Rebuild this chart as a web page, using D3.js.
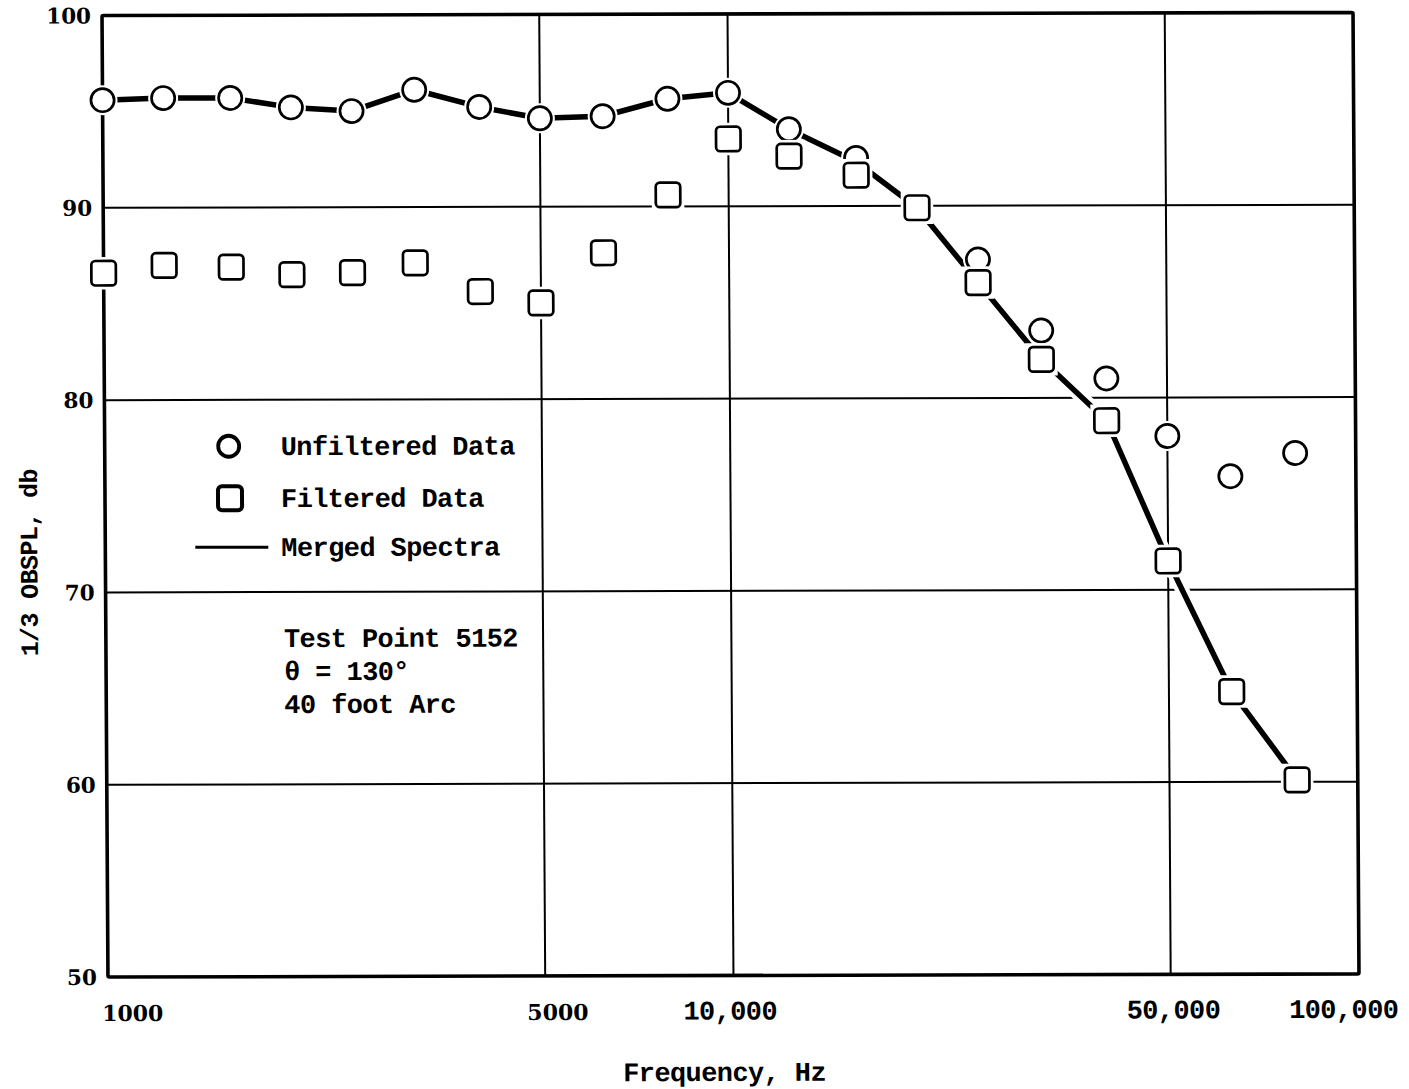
<!DOCTYPE html>
<html>
<head>
<meta charset="utf-8">
<script src="https://cdn.jsdelivr.net/npm/d3@7"></script>
<style>
  body { margin: 0; background: #fff; }
  svg { display: block; }
</style>
</head>
<body>
<svg id="chart" width="1409" height="1089"></svg>
<script>
// One-third octave band centre frequencies, Hz
const freqs = [1000, 1250, 1600, 2000, 2500, 3150, 4000, 5000, 6300, 8000,
               10000, 12500, 16000, 20000, 25000, 31500, 40000, 50000, 63000, 80000];
// 1/3 octave band sound pressure levels, db
const unfiltered = [95.6, 95.7, 95.7, 95.2, 95.0, 96.1, 95.2, 94.6, 94.7, 95.6,
                    95.9, 94.0, 92.5, 89.8, 87.2, 83.5, 81.0, 78.0, 75.9, 77.1];
const filtered   = [86.6, 87.0, 86.9, 86.5, 86.6, 87.1, 85.6, 85.0, 87.6, 90.6,
                    93.5, 92.6, 91.6, 89.9, 86.0, 82.0, 78.8, 71.5, 64.7, 60.1];
const merged     = [95.6, 95.7, 95.7, 95.2, 95.0, 96.1, 95.2, 94.6, 94.7, 95.6,
                    95.9, 94.0, 92.3, 89.9, 86.0, 82.0, 78.8, 71.5, 64.7, 60.1];

const xTicks = [1000, 5000, 10000, 50000, 100000];
const xTickLabels = ["1000", "5000", "10,000", "50,000", "100,000"];
const yTicks = [50, 60, 70, 80, 90, 100];
const xGrid = [5000, 10000, 50000];
const yGrid = [60, 70, 80, 90];

const legendLabels = ["Unfiltered Data", "Filtered Data", "Merged Spectra"];
const noteLines = ["Test Point 5152", "\u03b8 = 130\u00b0", "40 foot Arc"];
const xTitle = "Frequency, Hz";
const yTitle = "1/3 OBSPL, db";

const MONO = "'Liberation Mono', 'Courier New', monospace";
const SERIF = "'DejaVu Serif', serif";

const svg = d3.select("#chart");
svg.append("rect").attr("width", 1409).attr("height", 1089).attr("fill", "#fff");

// the printed sheet sits slightly askew
const cx = 730, cy = 495, kx = 0.0062, ky = -0.0025;
const g = svg.append("g")
  .attr("transform", `matrix(1,${ky},${kx},1,${-kx * cy},${-ky * cx})`);

const L = 105, R = 1356, T = 14, B = 975.5;
const x = d3.scaleLog().domain([1000, 100000]).range([L, R]);
const y = d3.scaleLinear().domain([50, 100]).range([B, T]);

// typewriter text helper
const mono = (sel, size) => sel
  .attr("font-family", MONO).attr("font-weight", "bold")
  .attr("font-size", size).attr("letter-spacing", -0.6).attr("fill", "#000");

// grid
g.append("g").selectAll("line").data(xGrid).join("line")
  .attr("x1", d => x(d)).attr("x2", d => x(d))
  .attr("y1", T).attr("y2", B)
  .attr("stroke", "#000").attr("stroke-width", 2);
g.append("g").selectAll("line").data(yGrid).join("line")
  .attr("x1", L).attr("x2", R)
  .attr("y1", d => y(d)).attr("y2", d => y(d))
  .attr("stroke", "#000").attr("stroke-width", 2);

// frame
g.append("rect")
  .attr("x", L).attr("y", T).attr("width", R - L).attr("height", B - T)
  .attr("fill", "none").attr("stroke", "#000").attr("stroke-width", 3.6)
  .attr("rx", 1.5);

// y tick labels
const yAxis = g.append("g")
  .attr("transform", `translate(${L},0)`)
  .call(d3.axisLeft(y).tickValues(yTicks).tickSize(0).tickPadding(11));
yAxis.select(".domain").remove();
yAxis.selectAll("text")
  .attr("font-family", SERIF).attr("font-weight", "bold")
  .attr("font-size", 21.5).attr("fill", "#000")
  .attr("dy", "0.34em");

// x tick labels
const xShift = [24, 12, -4, 2, -16];
const xAxis = g.append("g")
  .attr("transform", `translate(0,${B})`)
  .call(d3.axisBottom(x).tickValues(xTicks)
    .tickFormat((d, i) => xTickLabels[i]).tickSize(0));
xAxis.select(".domain").remove();
xAxis.selectAll("text")
  .attr("y", 44).attr("dy", 0)
  .attr("dx", (d, i) => xShift[i])
  .attr("fill", "#000")
  .each(function (d, i) {
    const t = d3.select(this);
    if (i < 2) t.attr("font-family", SERIF).attr("font-weight", "bold").attr("font-size", 22);
    else mono(t, 27);
  });

// axis titles
g.append("text")
  .attr("x", 721).attr("y", 1081)
  .attr("text-anchor", "middle")
  .call(mono, 27)
  .text(xTitle);
g.append("text")
  .attr("transform", "translate(37,561) rotate(-90)")
  .attr("text-anchor", "middle")
  .call(mono, 25)
  .text(yTitle);

// merged spectra line with a white knock-out behind it
const line = d3.line().x((d, i) => x(freqs[i])).y(d => y(d));
g.append("path").datum(merged).attr("d", line)
  .attr("fill", "none").attr("stroke", "#fff").attr("stroke-width", 14)
  .attr("stroke-linejoin", "round");
g.append("path").datum(merged).attr("d", line)
  .attr("fill", "none").attr("stroke", "#000").attr("stroke-width", 5.5)
  .attr("stroke-linejoin", "round").attr("stroke-linecap", "round");

// unfiltered data (circles)
const circ = g.append("g").selectAll("g").data(unfiltered).join("g")
  .attr("transform", (d, i) => `translate(${x(freqs[i])},${y(d)})`);
circ.append("circle").attr("r", 15).attr("fill", "#fff");
circ.append("circle").attr("r", 11.6)
  .attr("fill", "#fff").attr("stroke", "#000").attr("stroke-width", 2.7);

// filtered data (squares)
const S = 24.5;
const sq = g.append("g").selectAll("g").data(filtered).join("g")
  .attr("transform", (d, i) => `translate(${x(freqs[i])},${y(d)})`);
sq.append("rect").attr("x", -S / 2 - 4).attr("y", -S / 2 - 4)
  .attr("width", S + 8).attr("height", S + 8).attr("fill", "#fff");
sq.append("rect").attr("x", -S / 2).attr("y", -S / 2)
  .attr("width", S).attr("height", S).attr("rx", 4)
  .attr("fill", "#fff").attr("stroke", "#000").attr("stroke-width", 2.7);

// legend
const leg = g.append("g");
const legY = [445, 497, 546];
leg.append("circle").attr("cx", 229).attr("cy", legY[0]).attr("r", 10.5)
  .attr("fill", "#fff").attr("stroke", "#000").attr("stroke-width", 3.8);
leg.append("rect").attr("x", 218).attr("y", legY[1] - 12).attr("width", 24).attr("height", 24)
  .attr("rx", 4).attr("fill", "#fff").attr("stroke", "#000").attr("stroke-width", 4);
leg.append("line").attr("x1", 195).attr("x2", 268).attr("y1", legY[2]).attr("y2", legY[2])
  .attr("stroke", "#000").attr("stroke-width", 3);
leg.selectAll("text").data(legendLabels).join("text")
  .attr("x", 281).attr("y", (d, i) => legY[i] + 9)
  .call(mono, 27)
  .text(d => d);

// test point note
g.append("g").selectAll("text").data(noteLines).join("text")
  .attr("x", 283).attr("y", (d, i) => 646 + i * 33)
  .call(mono, 27)
  .text(d => d);
</script>
</body>
</html>
